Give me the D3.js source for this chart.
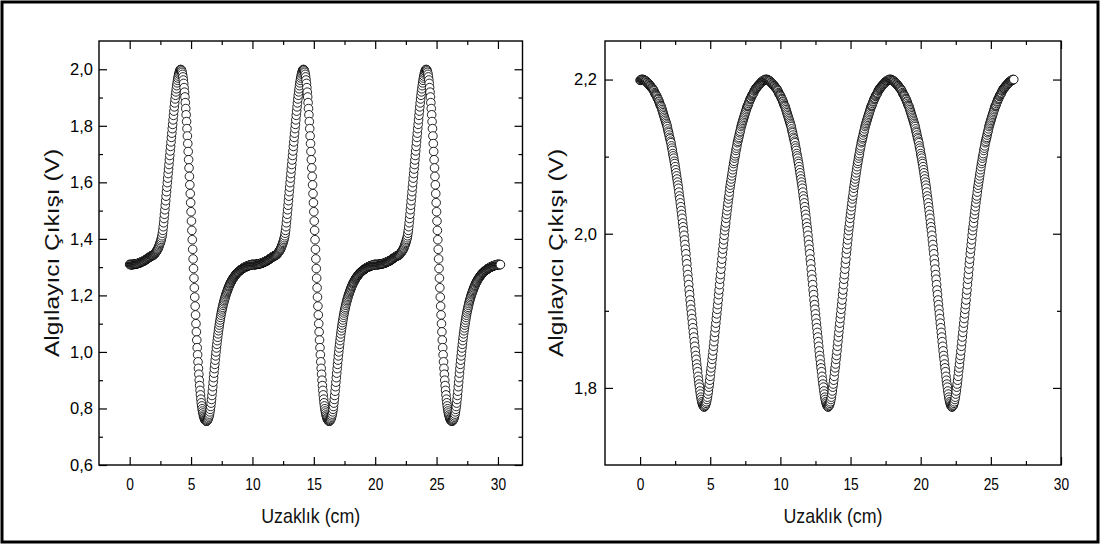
<!DOCTYPE html>
<html>
<head>
<meta charset="utf-8">
<script src="https://cdn.jsdelivr.net/npm/d3@7"></script>
<style>
  body { margin: 0; background: #fff; }
  svg { display: block; font-family: "Liberation Sans", Arial, sans-serif; }
</style>
</head>
<body>
<div id="chart"></div>
<script>
// distance between two readings of the sweep (cm)
const leftStep = 1 / 30;
const rightStep = 1 / 30;

// left panel: sensor output (V), one reading every 1/30 cm, 0 .. 30.2 cm
const leftVolts = [
  // 0 - 10 cm
  1.310,1.309,1.309,1.309,1.309,1.309,1.309,1.309,1.309,1.310,1.310,1.310,1.310,1.311,1.311,
  1.311,1.312,1.312,1.312,1.313,1.313,1.313,1.314,1.314,1.315,1.316,1.316,1.317,1.318,1.318,
  1.319,1.320,1.320,1.321,1.322,1.322,1.323,1.324,1.325,1.326,1.327,1.328,1.329,1.330,1.331,
  1.332,1.333,1.334,1.335,1.336,1.337,1.338,1.339,1.339,1.340,1.341,1.341,1.342,1.343,1.344,
  1.345,1.347,1.349,1.351,1.353,1.355,1.357,1.360,1.362,1.365,1.368,1.372,1.376,1.380,1.384,
  1.388,1.393,1.398,1.404,1.411,1.420,1.430,1.443,1.457,1.472,1.487,1.503,1.519,1.535,1.551,
  1.567,1.583,1.599,1.615,1.631,1.647,1.663,1.679,1.695,1.711,1.727,1.743,1.759,1.774,1.790,
  1.805,1.821,1.837,1.852,1.867,1.881,1.895,1.908,1.920,1.931,1.942,1.952,1.961,1.969,1.976,
  1.983,1.988,1.993,1.997,1.999,1.999,1.998,1.994,1.989,1.982,1.973,1.962,1.950,1.935,1.919,
  1.902,1.882,1.861,1.839,1.815,1.790,1.764,1.737,1.709,1.680,1.651,1.621,1.591,1.560,1.528,
  1.496,1.463,1.430,1.397,1.363,1.329,1.295,1.261,1.227,1.194,1.162,1.131,1.100,1.071,1.042,
  1.015,0.990,0.965,0.942,0.921,0.900,0.881,0.864,0.848,0.833,0.820,0.809,0.799,0.791,0.784,
  0.777,0.772,0.767,0.763,0.760,0.758,0.756,0.755,0.755,0.756,0.758,0.761,0.764,0.769,0.774,
  0.780,0.788,0.797,0.807,0.819,0.832,0.846,0.861,0.877,0.893,0.909,0.925,0.941,0.956,0.971,
  0.986,1.000,1.014,1.027,1.040,1.052,1.064,1.075,1.085,1.095,1.104,1.113,1.122,1.130,1.138,
  1.145,1.152,1.158,1.165,1.171,1.177,1.182,1.187,1.192,1.197,1.202,1.206,1.210,1.214,1.218,
  1.222,1.226,1.230,1.233,1.236,1.240,1.243,1.246,1.248,1.251,1.254,1.256,1.259,1.261,1.263,
  1.265,1.267,1.269,1.271,1.273,1.275,1.277,1.278,1.280,1.281,1.282,1.284,1.285,1.286,1.288,
  1.289,1.290,1.291,1.292,1.293,1.294,1.295,1.296,1.297,1.298,1.299,1.299,1.300,1.301,1.301,
  1.302,1.303,1.303,1.304,1.305,1.305,1.306,1.306,1.306,1.307,1.308,1.308,1.308,1.309,1.309,
  // 10 - 20 cm
  1.310,1.309,1.309,1.309,1.309,1.309,1.309,1.309,1.309,1.310,1.310,1.310,1.310,1.311,1.311,
  1.311,1.312,1.312,1.312,1.313,1.313,1.313,1.314,1.314,1.315,1.316,1.316,1.317,1.318,1.318,
  1.319,1.320,1.320,1.321,1.322,1.322,1.323,1.324,1.325,1.326,1.327,1.328,1.329,1.330,1.331,
  1.332,1.333,1.334,1.335,1.336,1.337,1.338,1.339,1.339,1.340,1.341,1.341,1.342,1.343,1.344,
  1.345,1.347,1.349,1.351,1.353,1.355,1.357,1.360,1.362,1.365,1.368,1.372,1.376,1.380,1.384,
  1.388,1.393,1.398,1.404,1.411,1.420,1.430,1.443,1.457,1.472,1.487,1.503,1.519,1.535,1.551,
  1.567,1.583,1.599,1.615,1.631,1.647,1.663,1.679,1.695,1.711,1.727,1.743,1.759,1.774,1.790,
  1.805,1.821,1.837,1.852,1.867,1.881,1.895,1.908,1.920,1.931,1.942,1.952,1.961,1.969,1.976,
  1.983,1.988,1.993,1.997,1.999,1.999,1.998,1.994,1.989,1.982,1.973,1.962,1.950,1.935,1.919,
  1.902,1.882,1.861,1.839,1.815,1.790,1.764,1.737,1.709,1.680,1.651,1.621,1.591,1.560,1.528,
  1.496,1.463,1.430,1.397,1.363,1.329,1.295,1.261,1.227,1.194,1.162,1.131,1.100,1.071,1.042,
  1.015,0.990,0.965,0.942,0.921,0.900,0.881,0.864,0.848,0.833,0.820,0.809,0.799,0.791,0.784,
  0.777,0.772,0.767,0.763,0.760,0.758,0.756,0.755,0.755,0.756,0.758,0.761,0.764,0.769,0.774,
  0.780,0.788,0.797,0.807,0.819,0.832,0.846,0.861,0.877,0.893,0.909,0.925,0.941,0.956,0.971,
  0.986,1.000,1.014,1.027,1.040,1.052,1.064,1.075,1.085,1.095,1.104,1.113,1.122,1.130,1.138,
  1.145,1.152,1.158,1.165,1.171,1.177,1.182,1.187,1.192,1.197,1.202,1.206,1.210,1.214,1.218,
  1.222,1.226,1.230,1.233,1.236,1.240,1.243,1.246,1.248,1.251,1.254,1.256,1.259,1.261,1.263,
  1.265,1.267,1.269,1.271,1.273,1.275,1.277,1.278,1.280,1.281,1.282,1.284,1.285,1.286,1.288,
  1.289,1.290,1.291,1.292,1.293,1.294,1.295,1.296,1.297,1.298,1.299,1.299,1.300,1.301,1.301,
  1.302,1.303,1.303,1.304,1.305,1.305,1.306,1.306,1.306,1.307,1.308,1.308,1.308,1.309,1.309,
  // 20 - 30 cm
  1.310,1.309,1.309,1.309,1.309,1.309,1.309,1.309,1.309,1.310,1.310,1.310,1.310,1.311,1.311,
  1.311,1.312,1.312,1.312,1.313,1.313,1.313,1.314,1.314,1.315,1.316,1.316,1.317,1.318,1.318,
  1.319,1.320,1.320,1.321,1.322,1.322,1.323,1.324,1.325,1.326,1.327,1.328,1.329,1.330,1.331,
  1.332,1.333,1.334,1.335,1.336,1.337,1.338,1.339,1.339,1.340,1.341,1.341,1.342,1.343,1.344,
  1.345,1.347,1.349,1.351,1.353,1.355,1.357,1.360,1.362,1.365,1.368,1.372,1.376,1.380,1.384,
  1.388,1.393,1.398,1.404,1.411,1.420,1.430,1.443,1.457,1.472,1.487,1.503,1.519,1.535,1.551,
  1.567,1.583,1.599,1.615,1.631,1.647,1.663,1.679,1.695,1.711,1.727,1.743,1.759,1.774,1.790,
  1.805,1.821,1.837,1.852,1.867,1.881,1.895,1.908,1.920,1.931,1.942,1.952,1.961,1.969,1.976,
  1.983,1.988,1.993,1.997,1.999,1.999,1.998,1.994,1.989,1.982,1.973,1.962,1.950,1.935,1.919,
  1.902,1.882,1.861,1.839,1.815,1.790,1.764,1.737,1.709,1.680,1.651,1.621,1.591,1.560,1.528,
  1.496,1.463,1.430,1.397,1.363,1.329,1.295,1.261,1.227,1.194,1.162,1.131,1.100,1.071,1.042,
  1.015,0.990,0.965,0.942,0.921,0.900,0.881,0.864,0.848,0.833,0.820,0.809,0.799,0.791,0.784,
  0.777,0.772,0.767,0.763,0.760,0.758,0.756,0.755,0.755,0.756,0.758,0.761,0.764,0.769,0.774,
  0.780,0.788,0.797,0.807,0.819,0.832,0.846,0.861,0.877,0.893,0.909,0.925,0.941,0.956,0.971,
  0.986,1.000,1.014,1.027,1.040,1.052,1.064,1.075,1.085,1.095,1.104,1.113,1.122,1.130,1.138,
  1.145,1.152,1.158,1.165,1.171,1.177,1.182,1.187,1.192,1.197,1.202,1.206,1.210,1.214,1.218,
  1.222,1.226,1.230,1.233,1.236,1.240,1.243,1.246,1.248,1.251,1.254,1.256,1.259,1.261,1.263,
  1.265,1.267,1.269,1.271,1.273,1.275,1.277,1.278,1.280,1.281,1.282,1.284,1.285,1.286,1.288,
  1.289,1.290,1.291,1.292,1.293,1.294,1.295,1.296,1.297,1.298,1.299,1.299,1.300,1.301,1.301,
  1.302,1.303,1.303,1.304,1.305,1.305,1.306,1.306,1.306,1.307,1.308,1.308,1.308,1.309,1.309,
  // 30 - 30.2 cm
  1.310,1.309,1.309,1.309,1.309,1.309,1.309
];

// right panel: sensor output (V), one reading every 1/30 cm, 0 .. 26.63 cm
const rightVolts = [
  2.199,2.199,2.200,2.200,2.200,
  // falling to 1st dip (~4.57 cm)
  2.200,2.200,2.200,2.199,2.199,2.199,2.198,2.198,2.198,2.197,
  2.196,2.196,2.195,2.194,2.194,2.193,2.192,2.192,2.191,2.190,
  2.189,2.189,2.188,2.187,2.186,2.185,2.183,2.182,2.181,2.180,
  2.179,2.178,2.176,2.175,2.174,2.172,2.171,2.169,2.167,2.166,
  2.165,2.163,2.161,2.159,2.157,2.155,2.153,2.151,2.149,2.147,
  2.145,2.143,2.141,2.139,2.136,2.133,2.131,2.128,2.125,2.123,
  2.120,2.118,2.114,2.111,2.108,2.104,2.101,2.098,2.094,2.091,
  2.087,2.083,2.079,2.075,2.071,2.067,2.063,2.059,2.054,2.049,
  2.045,2.040,2.035,2.030,2.025,2.020,2.014,2.009,2.004,1.998,
  1.992,1.986,1.980,1.974,1.967,1.961,1.954,1.947,1.941,1.934,
  1.927,1.921,1.914,1.908,1.902,1.896,1.890,1.884,1.878,1.872,
  1.866,1.860,1.854,1.848,1.842,1.837,1.831,1.826,1.821,1.815,
  1.810,1.805,1.801,1.796,1.792,1.788,1.785,1.782,1.780,1.778,
  1.777,1.776,1.775,
  // rising to peak (~9 cm)
  1.776,1.777,1.778,1.780,1.782,1.785,1.788,1.792,1.796,1.801,
  1.805,1.810,1.815,1.821,1.826,1.831,1.837,1.842,1.848,1.854,
  1.860,1.866,1.872,1.878,1.884,1.890,1.896,1.902,1.908,1.914,
  1.921,1.927,1.934,1.941,1.947,1.954,1.961,1.967,1.974,1.980,
  1.986,1.992,1.998,2.004,2.009,2.014,2.020,2.025,2.030,2.035,
  2.040,2.045,2.049,2.054,2.059,2.063,2.067,2.071,2.075,2.079,
  2.083,2.087,2.091,2.094,2.098,2.101,2.104,2.108,2.111,2.114,
  2.118,2.120,2.123,2.125,2.128,2.131,2.133,2.136,2.139,2.141,
  2.143,2.145,2.147,2.149,2.151,2.153,2.155,2.157,2.159,2.161,
  2.163,2.165,2.166,2.167,2.169,2.171,2.172,2.174,2.175,2.176,
  2.178,2.179,2.180,2.181,2.182,2.183,2.185,2.186,2.187,2.188,
  2.189,2.189,2.190,2.191,2.192,2.192,2.193,2.194,2.194,2.195,
  2.196,2.196,2.197,2.198,2.198,2.198,2.199,2.199,2.199,2.200,
  2.200,2.200,
  // falling to 2nd dip (~13.4 cm)
  2.200,2.200,2.200,2.199,2.199,2.199,2.198,2.198,2.198,2.197,
  2.196,2.196,2.195,2.194,2.194,2.193,2.192,2.192,2.191,2.190,
  2.189,2.189,2.188,2.187,2.186,2.185,2.183,2.182,2.181,2.180,
  2.179,2.178,2.176,2.175,2.174,2.172,2.171,2.169,2.167,2.166,
  2.165,2.163,2.161,2.159,2.157,2.155,2.153,2.151,2.149,2.147,
  2.145,2.143,2.141,2.139,2.136,2.133,2.131,2.128,2.125,2.123,
  2.120,2.118,2.114,2.111,2.108,2.104,2.101,2.098,2.094,2.091,
  2.087,2.083,2.079,2.075,2.071,2.067,2.063,2.059,2.054,2.049,
  2.045,2.040,2.035,2.030,2.025,2.020,2.014,2.009,2.004,1.998,
  1.992,1.986,1.980,1.974,1.967,1.961,1.954,1.947,1.941,1.934,
  1.927,1.921,1.914,1.908,1.902,1.896,1.890,1.884,1.878,1.872,
  1.866,1.860,1.854,1.848,1.842,1.837,1.831,1.826,1.821,1.815,
  1.810,1.805,1.801,1.796,1.792,1.788,1.785,1.782,1.780,1.778,
  1.777,1.776,1.775,
  // rising to peak (~17.8 cm)
  1.776,1.777,1.778,1.780,1.782,1.785,1.788,1.792,1.796,1.801,
  1.805,1.810,1.815,1.821,1.826,1.831,1.837,1.842,1.848,1.854,
  1.860,1.866,1.872,1.878,1.884,1.890,1.896,1.902,1.908,1.914,
  1.921,1.927,1.934,1.941,1.947,1.954,1.961,1.967,1.974,1.980,
  1.986,1.992,1.998,2.004,2.009,2.014,2.020,2.025,2.030,2.035,
  2.040,2.045,2.049,2.054,2.059,2.063,2.067,2.071,2.075,2.079,
  2.083,2.087,2.091,2.094,2.098,2.101,2.104,2.108,2.111,2.114,
  2.118,2.120,2.123,2.125,2.128,2.131,2.133,2.136,2.139,2.141,
  2.143,2.145,2.147,2.149,2.151,2.153,2.155,2.157,2.159,2.161,
  2.163,2.165,2.166,2.167,2.169,2.171,2.172,2.174,2.175,2.176,
  2.178,2.179,2.180,2.181,2.182,2.183,2.185,2.186,2.187,2.188,
  2.189,2.189,2.190,2.191,2.192,2.192,2.193,2.194,2.194,2.195,
  2.196,2.196,2.197,2.198,2.198,2.198,2.199,2.199,2.199,2.200,
  2.200,2.200,
  // falling to 3rd dip (~22.23 cm)
  2.200,2.200,2.200,2.199,2.199,2.199,2.198,2.198,2.198,2.197,
  2.196,2.196,2.195,2.194,2.194,2.193,2.192,2.192,2.191,2.190,
  2.189,2.189,2.188,2.187,2.186,2.185,2.183,2.182,2.181,2.180,
  2.179,2.178,2.176,2.175,2.174,2.172,2.171,2.169,2.167,2.166,
  2.165,2.163,2.161,2.159,2.157,2.155,2.153,2.151,2.149,2.147,
  2.145,2.143,2.141,2.139,2.136,2.133,2.131,2.128,2.125,2.123,
  2.120,2.118,2.114,2.111,2.108,2.104,2.101,2.098,2.094,2.091,
  2.087,2.083,2.079,2.075,2.071,2.067,2.063,2.059,2.054,2.049,
  2.045,2.040,2.035,2.030,2.025,2.020,2.014,2.009,2.004,1.998,
  1.992,1.986,1.980,1.974,1.967,1.961,1.954,1.947,1.941,1.934,
  1.927,1.921,1.914,1.908,1.902,1.896,1.890,1.884,1.878,1.872,
  1.866,1.860,1.854,1.848,1.842,1.837,1.831,1.826,1.821,1.815,
  1.810,1.805,1.801,1.796,1.792,1.788,1.785,1.782,1.780,1.778,
  1.777,1.776,1.775,
  // rising to the end
  1.776,1.777,1.778,1.780,1.782,1.785,1.788,1.792,1.796,1.801,
  1.805,1.810,1.815,1.821,1.826,1.831,1.837,1.842,1.848,1.854,
  1.860,1.866,1.872,1.878,1.884,1.890,1.896,1.902,1.908,1.914,
  1.921,1.927,1.934,1.941,1.947,1.954,1.961,1.967,1.974,1.980,
  1.986,1.992,1.998,2.004,2.009,2.014,2.020,2.025,2.030,2.035,
  2.040,2.045,2.049,2.054,2.059,2.063,2.067,2.071,2.075,2.079,
  2.083,2.087,2.091,2.094,2.098,2.101,2.104,2.108,2.111,2.114,
  2.118,2.120,2.123,2.125,2.128,2.131,2.133,2.136,2.139,2.141,
  2.143,2.145,2.147,2.149,2.151,2.153,2.155,2.157,2.159,2.161,
  2.163,2.165,2.166,2.167,2.169,2.171,2.172,2.174,2.175,2.176,
  2.178,2.179,2.180,2.181,2.182,2.183,2.185,2.186,2.187,2.188,
  2.189,2.189,2.190,2.191,2.192,2.192,2.193,2.194,2.194,2.195,
  2.196,2.196,2.197,2.198,2.198,2.198,2.199,2.199,2.199,2.200,
  2.200,2.200
];

// ticks
const xMajor = [0, 5, 10, 15, 20, 25, 30];
const xMinor = [2.5, 7.5, 12.5, 17.5, 22.5, 27.5];
const leftYMajor = [0.6, 0.8, 1.0, 1.2, 1.4, 1.6, 1.8, 2.0];
const leftYMinor = [0.7, 0.9, 1.1, 1.3, 1.5, 1.7, 1.9];
const rightYMajor = [1.8, 2.0, 2.2];
const rightYMinor = [1.9, 2.1];

const xTitle = "Uzaklık (cm)";
const yTitle = "Algılayıcı Çıkışı (V)";

const comma = d3.formatLocale({decimal: ",", thousands: ".", grouping: [3], currency: ["", ""]}).format(".1f");

const width = 1100, height = 546;
const plotTop = 41, plotBottom = 465;

const svg = d3.select("#chart").append("svg")
    .attr("width", width)
    .attr("height", height);

svg.append("rect").attr("width", width).attr("height", height).attr("fill", "#fff");
svg.append("rect")
    .attr("x", 2).attr("y", 2).attr("width", 1096).attr("height", 540)
    .attr("fill", "none").attr("stroke", "#000").attr("stroke-width", 3);

function drawPanel(p) {
    const x = d3.scaleLinear().domain(p.xDomain).range([p.left, p.right]);
    const y = d3.scaleLinear().domain(p.yDomain).range([plotBottom, plotTop]);
    const g = svg.append("g");

    // open circle markers, later readings on top
    g.append("g").selectAll("circle")
        .data(p.values)
        .enter().append("circle")
        .attr("cx", (d, i) => x(i * p.step))
        .attr("cy", d => y(d))
        .attr("r", 4.3)
        .attr("fill", "#fff")
        .attr("stroke", "#000")
        .attr("stroke-width", 0.85);

    // ticks on all four sides, pointing inward
    const sides = [
        [d3.axisBottom(x), `translate(0,${plotBottom})`, xMajor, xMinor, d3.format("d")],
        [d3.axisTop(x), `translate(0,${plotTop})`, xMajor, xMinor, null],
        [d3.axisLeft(y), `translate(${p.left},0)`, p.yMajor, p.yMinor, comma],
        [d3.axisRight(y), `translate(${p.right},0)`, p.yMajor, p.yMinor, null]
    ];
    sides.forEach(([axis, tr, major, minor, fmt], k) => {
        const big = g.append("g").attr("transform", tr)
            .call(axis.tickValues(major).tickSize(-8)
                .tickPadding(k === 0 ? 13.5 : p.yPad)
                .tickFormat(fmt || (() => "")));
        big.select(".domain").remove();
        big.selectAll("line").attr("stroke", "#000").attr("stroke-width", 1.2);
        big.selectAll("text")
            .attr("fill", "#000")
            .attr("font-family", "'Liberation Sans', Arial, sans-serif")
            .attr("font-size", k === 0 ? 16 : 16.5)
            .attr("transform", k === 0 ? "scale(0.86,1)" : null);

        const small = g.append("g").attr("transform", tr)
            .call(axis.tickValues(minor).tickSize(-4).tickFormat(() => ""));
        small.select(".domain").remove();
        small.selectAll("line").attr("stroke", "#000").attr("stroke-width", 1.2);
    });

    // frame
    g.append("rect")
        .attr("x", p.left).attr("y", plotTop)
        .attr("width", p.right - p.left).attr("height", plotBottom - plotTop)
        .attr("fill", "none").attr("stroke", "#000").attr("stroke-width", 1.4);

    // axis titles
    g.append("text")
        .attr("transform", `translate(${(p.left + p.right) / 2},523) scale(0.85,1)`)
        .attr("text-anchor", "middle")
        .attr("font-size", 21)
        .attr("fill", "#111")
        .text(xTitle);

    g.append("text")
        .attr("transform", `translate(${p.titleX},${(plotTop + plotBottom) / 2}) scale(0.8,1) rotate(-90)`)
        .attr("text-anchor", "middle")
        .attr("dy", "0.35em")
        .attr("font-size", 24.5)
        .attr("fill", "#111")
        .text(yTitle);
}

drawPanel({
    values: leftVolts, step: leftStep,
    xDomain: [-2.5, 32], yDomain: [0.6, 2.1],
    left: 99, right: 522.5,
    yMajor: leftYMajor, yMinor: leftYMinor,
    yPad: 6, titleX: 52
});

drawPanel({
    values: rightVolts, step: rightStep,
    xDomain: [-2.5, 30], yDomain: [1.7, 2.25],
    left: 605, right: 1061,
    yMajor: rightYMajor, yMinor: rightYMinor,
    yPad: 8, titleX: 556
});
</script>
</body>
</html>
